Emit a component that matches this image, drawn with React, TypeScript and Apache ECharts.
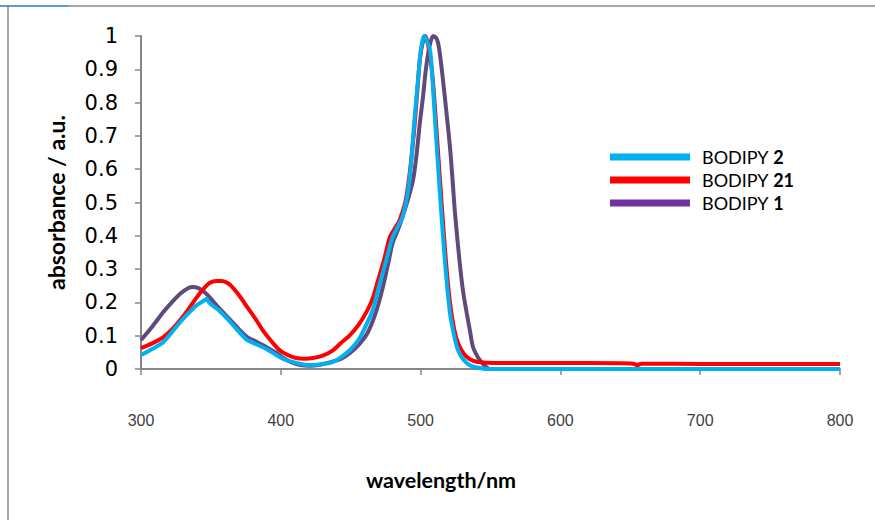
import React, { useEffect, useRef } from "react";
import * as echarts from "echarts";

const xTicks = [300, 400, 500, 600, 700, 800];
const yTicks = [0, 0.1, 0.2, 0.3, 0.4, 0.5, 0.6, 0.7, 0.8, 0.9, 1];

const seriesNames = ["BODIPY 2", "BODIPY 21", "BODIPY 1"];
const xTitle = "wavelength/nm";
const yTitle = "absorbance / a.u.";

const bodipy2Wavelength = [300, 308, 316, 328, 340, 345, 347, 349, 356, 364, 370, 376, 387, 393, 399, 405, 411, 417, 423, 430, 437, 443, 449.5, 456, 461.7, 466, 469, 473, 476, 480, 484, 487, 490, 492, 494, 496, 498, 499.6, 501, 502.4, 504, 506.7, 508.5, 510, 512, 514, 517.5, 521, 523.5, 526, 529, 533, 537, 542.5, 548, 600, 700, 800];
const bodipy2Absorbance = [0.042, 0.06, 0.081, 0.141, 0.192, 0.205, 0.21, 0.198, 0.175, 0.141, 0.112, 0.087, 0.066, 0.052, 0.036, 0.025, 0.018, 0.013, 0.012, 0.015, 0.021, 0.035, 0.057, 0.09, 0.138, 0.18, 0.228, 0.29, 0.336, 0.396, 0.43, 0.456, 0.51, 0.567, 0.66, 0.769, 0.86, 0.937, 0.98, 1.0, 0.99, 0.958, 0.87, 0.769, 0.64, 0.517, 0.318, 0.168, 0.11, 0.066, 0.038, 0.018, 0.008, 0.003, 0, 0, 0, 0];

const bodipy21Wavelength = [300, 308, 316, 322, 328, 334, 340, 345, 349, 354, 358, 361, 364, 370, 376, 382, 387, 393, 399, 405, 411, 417, 423, 430, 437, 443, 449.5, 456, 462, 466, 469, 474, 478, 482, 485, 489, 492, 495, 497, 499.5, 502, 503.5, 505.5, 508, 510, 512, 515, 518, 521, 524, 527, 531, 535, 540, 548, 560, 600, 640, 652, 655, 658, 700, 750, 800];
const bodipy21Absorbance = [0.063, 0.077, 0.096, 0.118, 0.147, 0.18, 0.216, 0.242, 0.258, 0.264, 0.264, 0.26, 0.252, 0.222, 0.186, 0.15, 0.117, 0.085, 0.057, 0.042, 0.033, 0.031, 0.033, 0.04, 0.055, 0.078, 0.102, 0.135, 0.177, 0.215, 0.258, 0.33, 0.396, 0.425, 0.447, 0.5, 0.58, 0.7, 0.8, 0.93, 0.99, 1.0, 0.97, 0.9, 0.8, 0.68, 0.5, 0.33, 0.2, 0.12, 0.075, 0.045, 0.03, 0.022, 0.019, 0.018, 0.018, 0.017, 0.016, 0.012, 0.016, 0.015, 0.015, 0.015];

const bodipy1Wavelength = [300, 308, 316, 322, 328, 334, 337, 341, 345, 349, 356, 364, 370, 376, 382, 387, 392, 397, 402, 407, 414, 421, 428, 435, 443, 449.5, 456, 462, 468, 473, 477, 480, 484, 487, 491, 494.6, 497, 499.5, 501.7, 503.5, 505, 507, 509, 511, 512.5, 514, 516, 518.5, 521, 523, 524.6, 528, 530.5, 533, 535.5, 537.5, 541, 544, 547, 549.6, 600, 700, 800];
const bodipy1Absorbance = [0.087, 0.127, 0.171, 0.2, 0.226, 0.243, 0.246, 0.243, 0.232, 0.216, 0.182, 0.147, 0.12, 0.096, 0.083, 0.072, 0.06, 0.048, 0.033, 0.021, 0.012, 0.01, 0.013, 0.02, 0.03, 0.048, 0.074, 0.108, 0.17, 0.246, 0.32, 0.378, 0.42, 0.456, 0.51, 0.567, 0.64, 0.74, 0.817, 0.89, 0.937, 0.98, 1.0, 0.995, 0.979, 0.94, 0.868, 0.77, 0.667, 0.56, 0.468, 0.318, 0.23, 0.168, 0.11, 0.066, 0.035, 0.018, 0.006, 0, 0, 0, 0];

const pair = (xs: number[], ys: number[]) => xs.map((x, i) => [x, ys[i]]);

export default function App() {
  const ref = useRef<HTMLDivElement>(null);

  useEffect(() => {
    if (!ref.current) return;
    const chart = echarts.init(ref.current, null, { renderer: "svg" });
    const axisColor = "#868686";
    chart.setOption({
      animation: false,
      backgroundColor: "#ffffff",
      grid: { left: 141, top: 36, right: 35, bottom: 151, containLabel: false },
      xAxis: {
        type: "value",
        min: xTicks[0],
        max: xTicks[xTicks.length - 1],
        interval: 100,
        axisLine: { lineStyle: { color: axisColor, width: 2 } },
        axisTick: { show: true, inside: false, length: 6, lineStyle: { color: axisColor, width: 1.5 } },
        axisLabel: { margin: 43, fontFamily: "Liberation Sans", fontSize: 16, color: "#404040" },
        splitLine: { show: false },
      },
      yAxis: {
        type: "value",
        min: yTicks[0],
        max: yTicks[yTicks.length - 1],
        interval: 0.1,
        name: yTitle,
        nameLocation: "middle",
        nameGap: 74,
        nameRotate: 90,
        nameTextStyle: { fontFamily: "Lato", fontWeight: "bold", fontSize: 23, color: "#000" },
        axisLine: { show: true, lineStyle: { color: axisColor, width: 2 } },
        axisTick: { show: true, inside: false, length: 6, lineStyle: { color: axisColor, width: 1.5 } },
        axisLabel: {
          margin: 23,
          fontFamily: "DejaVu Sans",
          fontSize: 21,
          color: "#000",
          formatter: (v: number) => String(Math.round(v * 10) / 10),
        },
        splitLine: { show: false },
      },
      legend: {
        orient: "vertical",
        left: 610,
        top: 148,
        padding: 0,
        icon: "rect",
        itemWidth: 80,
        itemHeight: 7,
        itemGap: 5,
        data: [
          { name: seriesNames[0], itemStyle: { color: "#00B0F0" } },
          { name: seriesNames[1], itemStyle: { color: "#FF0000" } },
          { name: seriesNames[2], itemStyle: { color: "#7030A0" } },
        ],
        formatter: (name: string) => {
          const parts = name.split(" ");
          return `{n|${parts[0]} }{b|${parts[1]}}`;
        },
        textStyle: {
          padding: [0, 0, 0, 7],
          rich: {
            n: { fontFamily: "Lato", fontSize: 18, lineHeight: 19, color: "#000" },
            b: { fontFamily: "Lato", fontSize: 18, lineHeight: 19, fontWeight: "bold", color: "#000" },
          },
        },
      },
      series: [
        {
          name: seriesNames[2],
          type: "line",
          data: pair(bodipy1Wavelength, bodipy1Absorbance),
          showSymbol: false,
          smooth: 0.3,
          lineStyle: { color: "#604A7B", width: 4 },
          itemStyle: { color: "#604A7B" },
          z: 2,
        },
        {
          name: seriesNames[1],
          type: "line",
          data: pair(bodipy21Wavelength, bodipy21Absorbance),
          showSymbol: false,
          smooth: 0.3,
          lineStyle: { color: "#FF0000", width: 4 },
          itemStyle: { color: "#FF0000" },
          z: 3,
        },
        {
          name: seriesNames[0],
          type: "line",
          data: pair(bodipy2Wavelength, bodipy2Absorbance),
          showSymbol: false,
          smooth: 0.3,
          lineStyle: { color: "#00B0F0", width: 4 },
          itemStyle: { color: "#00B0F0" },
          z: 4,
        },
      ],
      graphic: [
        { type: "line", shape: { x1: 8, y1: 6, x2: 875, y2: 6 }, style: { stroke: "#8a8a8a", lineWidth: 1.5 } },
        { type: "line", shape: { x1: 0, y1: 6, x2: 68, y2: 6 }, style: { stroke: "#5B9BD5", lineWidth: 2 } },
        { type: "line", shape: { x1: 8, y1: 6, x2: 8, y2: 520 }, style: { stroke: "#8a8a8a", lineWidth: 1.5 } },
        {
          type: "text",
          x: 441,
          y: 480,
          style: {
            text: xTitle,
            fontFamily: "Lato",
            fontWeight: "bold",
            fontSize: 21.5,
            fill: "#000",
            align: "center",
            verticalAlign: "middle",
          },
        },
      ],
    });
    return () => chart.dispose();
  }, []);

  return (
    <div
      ref={ref}
      style={{ position: "fixed", left: 0, top: 0, width: 875, height: 520, background: "#fff" }}
    />
  );
}
